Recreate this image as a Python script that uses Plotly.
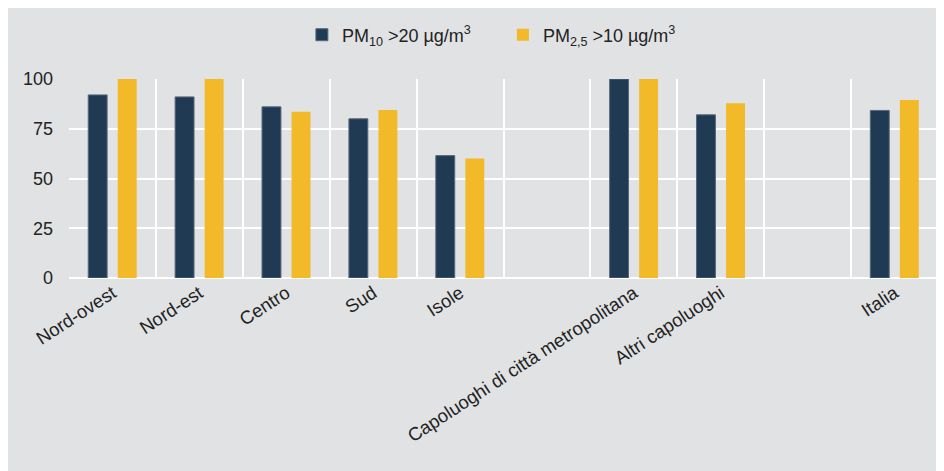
import plotly.graph_objects as go

categories = ["Nord-ovest", "Nord-est", "Centro", "Sud", "Isole", " ",
              "Capoluoghi di città metropolitana", "Altri capoluoghi", "  ", "Italia"]
pm10 = [92, 91, 86, 80, 61.5, None, 100, 82, None, 84.2]
pm25 = [100, 100, 83.5, 84.4, 60, None, 100, 87.8, None, 89.4]
series_names = ["PM<sub>10</sub> >20 µg/m<sup>3</sup>", "PM<sub>2,5</sub> >10 µg/m<sup>3</sup>"]
yticks = [0, 25, 50, 75, 100]

bg = "#e1e2e4"
fig = go.Figure()
fig.add_trace(go.Bar(x=categories, y=pm10, name=series_names[0],
                     marker=dict(color="#213a53", line=dict(color="#56687b", width=1))))
fig.add_trace(go.Bar(x=categories, y=pm25, name=series_names[1],
                     marker=dict(color="#f2b929", line=dict(width=0))))

fig.update_layout(
    width=944, height=471,
    paper_bgcolor=bg, plot_bgcolor=bg,
    margin=dict(l=61, r=14, t=71, b=201, autoexpand=False),
    barmode="group", bargap=0.32, bargroupgap=0.36,
    font=dict(family="Liberation Sans, Arial, sans-serif", size=18, color="#222222"),
    legend=dict(orientation="h", x=0.268, xanchor="left", y=1.221, yanchor="middle",
                font=dict(size=18), bgcolor="rgba(0,0,0,0)", itemwidth=30,
                entrywidth=156, entrywidthmode="pixels"),
    showlegend=True,
)
fig.update_xaxes(type="category", tickson="boundaries", showgrid=True, gridcolor="white",
                 gridwidth=2, tickangle=-33, ticks="", showline=False, automargin=False,
                 tickfont=dict(size=18.5), categoryorder="array", categoryarray=categories)
fig.update_yaxes(range=[0, 100], tickvals=yticks, showgrid=True, gridcolor="white",
                 gridwidth=2, zeroline=True, zerolinecolor="white", zerolinewidth=2,
                 ticks="", ticklabelstandoff=15, tickfont=dict(size=18), showline=False,
                 automargin=False)
fig.add_shape(type="line", xref="paper", yref="paper", x0=1, x1=1, y0=0, y1=1,
              line=dict(color="white", width=2))

fig.write_html("out.html")
